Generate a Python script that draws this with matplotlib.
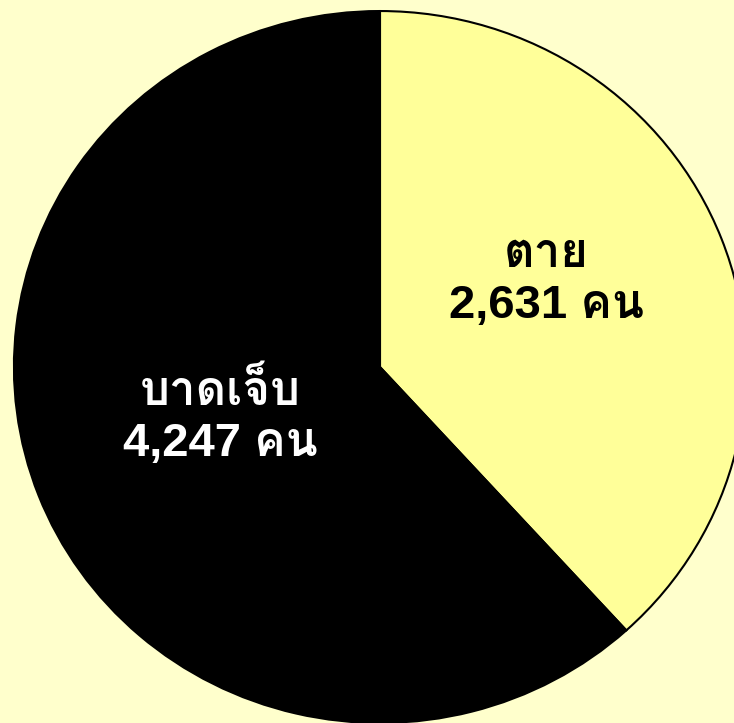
import matplotlib
matplotlib.use("Agg")
import matplotlib.pyplot as plt
from matplotlib import font_manager

labels = ["ตาย", "บาดเจ็บ"]
values = [2631, 4247]
value_text = ["2,631 คน", "4,247 คน"]
colors = ["#FFFF99", "#000000"]
text_colors = ["#000000", "#FFFFFF"]

# find fonts that contain Thai glyphs
thai_fams = []
try:
    from fontTools.ttLib import TTFont
    for f in font_manager.fontManager.ttflist:
        try:
            tt = TTFont(f.fname, fontNumber=0, lazy=True)
            cmap = tt.getBestCmap()
            if cmap and 0x0E15 in cmap and f.name not in thai_fams:
                thai_fams.append(f.name)
        except Exception:
            pass
except Exception:
    pass
pref = [n for n in ["Loma", "Tahoma", "Noto Sans Thai"] if n in thai_fams]
fam = ["Liberation Sans"] + pref + [n for n in thai_fams if n not in pref] + ["DejaVu Sans"]

fig = plt.figure(figsize=(7.34, 7.23), dpi=100, facecolor="#FFFFCC")
ax = fig.add_axes([0, 0, 1, 1])
ax.set_facecolor("#FFFFCC")
ax.pie(values, colors=colors, startangle=90, counterclock=False,
       wedgeprops=dict(edgecolor="black", linewidth=1.5), radius=1.0)
ax.set_aspect("auto")
ax.set_xlim(-1.038, 0.967)
ax.set_ylim(-1.0, 1.031)
ax.axis("off")

pos = [(0.454, 0.244), (-0.437, -0.143)]
for (x, y), lab, vt, tc in zip(pos, labels, value_text, text_colors):
    ax.text(x, y, lab + "\n" + vt, ha="center", va="center", color=tc,
            fontsize=34, fontweight="bold", family=fam, linespacing=1.2)

fig.savefig("out.png", dpi=100, facecolor=fig.get_facecolor())
